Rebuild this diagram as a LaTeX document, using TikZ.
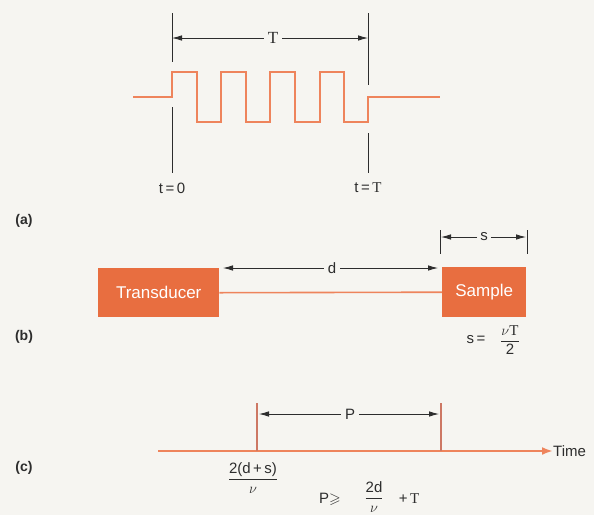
\documentclass[tikz,border=0pt]{standalone}
\usepackage{amsmath,amssymb}
\usepackage{fontspec}
\setmainfont{Liberation Sans}
\newfontfamily\serifT{Liberation Serif}
\usetikzlibrary{arrows.meta}
\definecolor{bg}{RGB}{246,245,241}
\definecolor{boxor}{RGB}{232,110,64}
\definecolor{lineor}{RGB}{238,132,92}
\definecolor{vline}{RGB}{205,120,100}
\definecolor{ink}{RGB}{45,45,45}
\tikzset{
  lbl/.style={text=ink,font=\fontsize{15}{18}\selectfont,inner sep=1pt},
  panel/.style={text=ink,font=\bfseries\fontsize{14}{17}\selectfont,inner sep=0pt},
  dimline/.style={draw=ink,line width=0.8pt,-{Latex[length=10pt,width=5.5pt]}},
  tick/.style={draw=ink,line width=0.8pt},
  wave/.style={draw=lineor,line width=2.8pt,line join=miter},
  boxnode/.style={fill=boxor,text=white,font=\fontsize{17}{20}\selectfont,inner sep=0pt,anchor=north west},
}
\begin{document}
\begin{tikzpicture}[x=1pt,y=-1pt]
\fill[bg] (0,0) rectangle (594,515);
\useasboundingbox (0,0) rectangle (594,515);

% ---------- (a)
\coordinate (a1) at (172,13); \coordinate (a2) at (172,62);
\coordinate (a3) at (172,107); \coordinate (a4) at (172,173);
\coordinate (b1) at (368,13); \coordinate (b2) at (368,85);
\coordinate (b3) at (368,133); \coordinate (b4) at (368,173);
\draw[tick] (a1) -- (a2); \draw[tick] (a3) -- (a4);
\draw[tick] (b1) -- (b2); \draw[tick] (b3) -- (b4);
\node[lbl,fill=bg,font=\serifT\fontsize{17}{18}\selectfont,inner sep=4pt] (Tlab) at (273,38) {T};
\coordinate (Tl) at (172,38); \coordinate (Tr) at (368,38);
\draw[dimline] (Tlab) -- (Tl);
\draw[dimline] (Tlab) -- (Tr);
\draw[wave] (133,97) -- (172,97) -- (172,72) -- (197,72) -- (197,122) -- (221,122) -- (221,72)
  -- (246,72) -- (246,122) -- (270,122) -- (270,72) -- (295,72) -- (295,122) -- (320,122)
  -- (320,72) -- (344,72) -- (344,122) -- (368,122) -- (368,97) -- (440,97);
\node[lbl] (t0) at (172,188) {t\,=\,0};
\node[lbl] (tT) at (368,188) {t\,=\,{\serifT T}};
\node[panel] (pa) at (24,221) {(a)};

% ---------- (b)
\node[boxnode,minimum width=121pt,minimum height=49pt] (trans) at (98,268) {};
\node[text=white,font=\fontsize{17}{20}\selectfont] at (trans.center) {Transducer};
\node[boxnode,minimum width=84pt,minimum height=50pt] (samp) at (442,267) {};
\node[text=white,font=\fontsize{17}{20}\selectfont] at (samp.center) {Sample};
\draw[draw=lineor,line width=1.6pt] (trans.east) -- (samp.west);
\node[lbl,fill=bg,inner sep=4pt] (dlab) at (332,268) {d};
\coordinate (dl) at (223,268); \coordinate (dr) at (438,268);
\draw[dimline] (dlab) -- (dl);
\draw[dimline] (dlab) -- (dr);
\coordinate (s1) at (440,230); \coordinate (s2) at (440,254);
\coordinate (s3) at (527,230); \coordinate (s4) at (527,254);
\draw[tick] (s1) -- (s2); \draw[tick] (s3) -- (s4);
\node[lbl,fill=bg,inner sep=3pt] (slab) at (484,237) {s};
\coordinate (sl) at (441,237); \coordinate (sr) at (526,237);
\draw[dimline] (slab) -- (sl);
\draw[dimline] (slab) -- (sr);
\node[lbl] (seq) at (476,340) {s\,=};
\node[lbl] (sfrac) at (510,340) {$\displaystyle\frac{\nu\mbox{\serifT T}}{\mbox{2}}$};
\node[panel] (pb) at (24,337) {(b)};

% ---------- (c)
\coordinate (ax0) at (158,451);
\node[lbl,anchor=west,inner sep=0pt] (time) at (553,451) {Time};
\draw[draw=lineor,line width=2.2pt,-{Latex[length=11pt,width=8pt]}] (ax0) -- (time.west);
\coordinate (p1) at (257,403); \coordinate (p2) at (257,451);
\coordinate (p3) at (441,403); \coordinate (p4) at (441,451);
\draw[draw=vline,line width=1.2pt] (p1) -- (p2);
\draw[draw=vline,line width=1.2pt] (p3) -- (p4);
\node[lbl,fill=bg,inner sep=4pt] (Plab) at (350,414) {P};
\coordinate (Pl) at (259,414); \coordinate (Pr) at (439,414);
\draw[dimline] (Plab) -- (Pl);
\draw[dimline] (Plab) -- (Pr);
\node[lbl] (dfrac) at (253,478) {$\displaystyle\frac{\mbox{2(d\,+\,s)}}{\nu}$};
\node[lbl] (Pge) at (330,499) {P$\geqslant$};
\node[lbl] (pfrac) at (374,497) {$\displaystyle\frac{\mbox{2d}}{\nu}$};
\node[lbl] (plusT) at (409,499) {+\,{\serifT T}};
\node[panel] (pc) at (24,468) {(c)};
\end{tikzpicture}
\end{document}
